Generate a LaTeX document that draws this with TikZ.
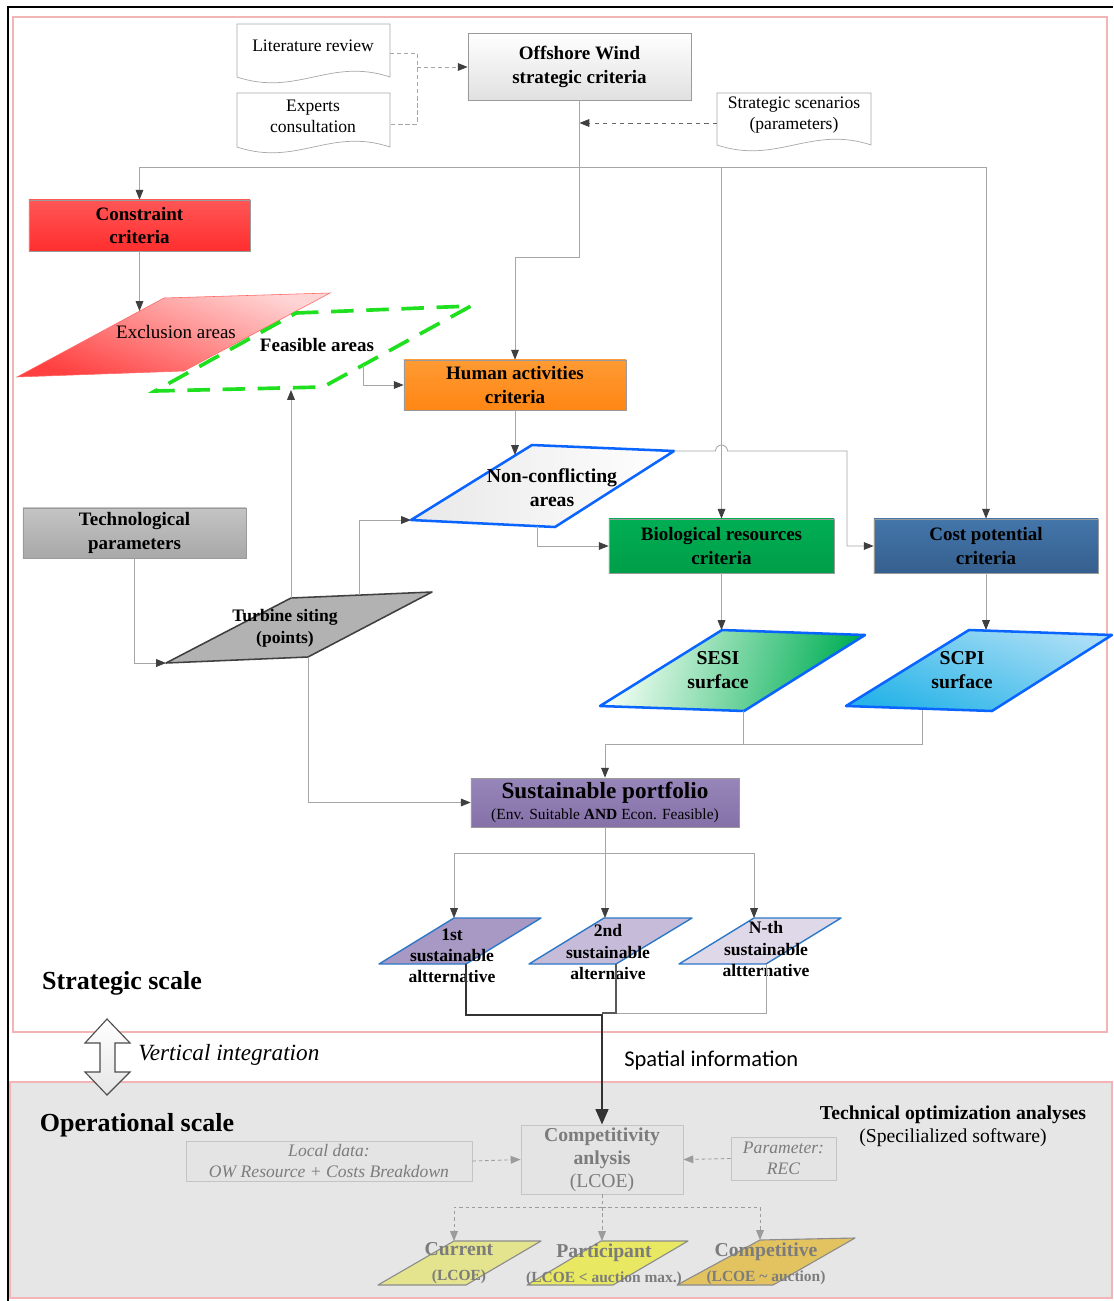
\documentclass[tikz,border=0pt]{standalone}
\usepackage{fontspec}
\setmainfont{Liberation Serif}
\newfontfamily\calibrifont{Carlito}
\usetikzlibrary{arrows.meta}
\definecolor{panelc}{HTML}{F2B4B4}
\definecolor{opbg}{HTML}{E6E6E6}
\definecolor{wirec}{HTML}{A6A6A6}
\definecolor{tipc}{HTML}{3F3F3F}
\definecolor{boxedge}{HTML}{9A9A9A}
\definecolor{docedge}{HTML}{A8A8A8}
\definecolor{constrtop}{HTML}{FF5656}
\definecolor{constrbot}{HTML}{FF2E2E}
\definecolor{humantop}{HTML}{FF9A33}
\definecolor{humanbot}{HTML}{FF8614}
\definecolor{biotop}{HTML}{00AE54}
\definecolor{biobot}{HTML}{009E48}
\definecolor{costtop}{HTML}{4476AA}
\definecolor{costbot}{HTML}{355F8E}
\definecolor{techtop}{HTML}{C4C4C4}
\definecolor{techbot}{HTML}{A8A8A8}
\definecolor{porttop}{HTML}{9786BA}
\definecolor{portbot}{HTML}{8571A8}
\definecolor{planeblue}{HTML}{0A64FF}
\definecolor{altblue}{HTML}{2E78C8}
\definecolor{feasgreen}{HTML}{1EE01E}
\definecolor{scpitop}{HTML}{A8DDF5}
\definecolor{scpibot}{HTML}{28B4E8}
\definecolor{excltop}{HTML}{FFD4D4}
\definecolor{exclbot}{HTML}{FF4040}
\definecolor{optext}{HTML}{7C7C7C}
\definecolor{opedge}{HTML}{C4C4C4}
\definecolor{opfill}{HTML}{E4E4E4}
\definecolor{opwirec}{HTML}{9C9C9C}
\definecolor{curfill}{HTML}{E4E48E}
\definecolor{partfill}{HTML}{E8E862}
\definecolor{compfill}{HTML}{E3C360}

\tikzset{
  panel/.style={draw=panelc,line width=1.1pt},
  wire/.style={draw=wirec,line width=0.6pt},
  headed/.style={-{Triangle[length=7pt,width=5.5pt,color=tipc]}},
  critbox/.style={draw=boxedge,line width=0.5pt,inner sep=0pt,align=center,
    font=\fontsize{13.5}{17}\selectfont\bfseries},
  doc/.style={draw=docedge,line width=0.5pt,fill=white},
  srctext/.style={align=center,font=\fontsize{12.5}{15}\selectfont},
  plane/.style={draw=planeblue,line width=1.8pt,line join=round},
  planetext/.style={align=center,font=\fontsize{14}{17}\selectfont\bfseries},
  alt/.style={draw=altblue,line width=1pt,line join=round},
  alttext/.style={align=center,font=\fontsize{12.5}{15}\selectfont\bfseries},
  opbox/.style={draw=opedge,fill=opfill,line width=0.6pt,inner sep=0pt,
    align=center,text=optext},
  opwire/.style={draw=opwirec,line width=0.6pt,dash pattern=on 2.5pt off 2pt},
  ophead/.style={-{Triangle[length=7pt,width=5.5pt,color=opwirec]}},
  oppara/.style={draw=black!45,line width=0.8pt,line join=round},
  optextb/.style={align=center,text=optext,font=\fontsize{14}{17.5}\selectfont\bfseries},
}

\begin{document}
\begin{tikzpicture}[x=0.025cm,y=-0.025cm]
\useasboundingbox (0,0) rectangle (1113,1301);

% the two scale panels and the outer frame
\draw[panel,fill=white] (13,17) rectangle (1107,1032);
\draw[panel,fill=opbg] (10,1082) rectangle (1112,1298);
\draw[line width=1.6pt] (8,1301) -- (8,7) -- (1113,7);

% sources of the strategic criteria
\draw[doc] (237,24) -- (390,24) -- (390,77) .. controls (330,57) and (297,97) .. (237,77) -- cycle;
\node[srctext] (litrev) at (313,46) {Literature review};
\draw[doc] (237,93) -- (390,93) -- (390,147) .. controls (330,127) and (297,167) .. (237,147) -- cycle;
\node[srctext] (experts) at (313,116.5) {Experts\\consultation};
\draw[doc] (717,93) -- (871,93) -- (871,145) .. controls (811,125) and (777,165) .. (717,145) -- cycle;
\node[srctext] (scenarios) at (794,115) {Strategic scenarios\\(parameters)};

\node[critbox,minimum width=5.575cm,minimum height=1.675cm,top color=white,bottom color=black!12] (owc) at (579.5,66.5) {Offshore Wind\\strategic criteria};

\coordinate (litout) at (390,53);
\coordinate (expout) at (390,124);
\coordinate (srcjoin) at (417,67);
\coordinate (scenout) at (717,123);
\draw[draw=wirec,line width=0.6pt,densely dashed] (litout) -| (srcjoin) |- (expout);
\draw[draw=wirec,line width=0.6pt,densely dashed,headed] (srcjoin) -- (owc.west |- srcjoin);
\draw[draw=black!60,line width=0.6pt,dashed,headed] (scenout) -- (owc.south |- scenout);

% criteria boxes
\node[critbox,minimum width=5.525cm,minimum height=1.275cm,top color=constrtop,bottom color=constrbot] (constraint) at (139.5,225.5) {Constraint\\criteria};
\node[critbox,minimum width=5.55cm,minimum height=1.25cm,top color=humantop,bottom color=humanbot] (human) at (515,385) {Human activities\\criteria};
\node[critbox,minimum width=5.625cm,minimum height=1.35cm,top color=biotop,bottom color=biobot] (bio) at (721.5,546) {Biological resources\\criteria};
\node[critbox,minimum width=5.6cm,minimum height=1.35cm,top color=costtop,bottom color=costbot] (cost) at (986,546) {Cost potential\\criteria};
\node[critbox,minimum width=5.575cm,minimum height=1.25cm,top color=techtop,bottom color=techbot] (tech) at (134.5,533) {Technological\\parameters};

% hub below the strategic criteria
\coordinate (hub) at (579.5,167);
\draw[wire] (owc.south) -- (hub);
\draw[wire,headed] (hub) -| (constraint.north);
\draw[wire,headed] (hub) -| (bio.north);
\draw[wire,headed] (hub) -| (cost.north);
\draw[wire,headed] (hub) -- ++(0,90) -| (human.north);

% spatial layers
\draw[draw=red!60,line width=0.4pt,top color=excltop,bottom color=exclbot,shading angle=-20] (164,298) -- (330,293) -- (184,371) -- (17,377) -- cycle;
\node[font=\fontsize{13.5}{16}\selectfont] (exclusion) at (176,332) {Exclusion areas};
\draw[draw=feasgreen,line width=2.6pt,dash pattern=on 16pt off 9pt] (296,313) -- (471,306) -- (323,387) -- (155,391) -- cycle;
\node[font=\fontsize{13.5}{16}\selectfont\bfseries] (feasible) at (317,345) {Feasible areas};

\draw[plane,left color=black!9,right color=white] (532,445) -- (674,451) -- (555,527) -- (411,520) -- cycle;
\node[planetext] (nonconf) at (552,488) {Non-conflicting\\areas};

\draw[draw=black!75,line width=1.1pt,fill=black!30,line join=round] (291,598) -- (432,592) -- (308,657) -- (166,663) -- cycle;
\node[alttext,font=\fontsize{12.5}{15.5}\selectfont\bfseries] (turbine) at (285,628) {Turbine siting\\(points)};

\draw[plane,left color=green!4!white,right color=biotop,shading angle=75] (722,630) -- (865,635) -- (744,711) -- (600,706) -- cycle;
\node[planetext] (sesi) at (718,670) {SESI\\surface};
\draw[plane,top color=scpitop,bottom color=scpibot,shading angle=-20] (969,630) -- (1112,635) -- (992,711) -- (846,706) -- cycle;
\node[planetext] (scpi) at (962,670) {SCPI\\surface};

% links between criteria and layers
\coordinate (exclin) at (139.5,311);
\coordinate (feasout) at (363,365);
\coordinate (feasin) at (291,390);
\coordinate (turbtl) at (291,598);
\coordinate (turbup) at (359,595);
\coordinate (turbbl) at (166,663);
\coordinate (turbbr) at (308,657);
\coordinate (ncin) at (411,520);
\coordinate (ncleft) at (515,455);
\coordinate (ncbot) at (537,526);
\coordinate (ncright) at (674,451);
\coordinate (sesitop) at (721.5,630);
\coordinate (scpitop) at (986,630);
\coordinate (sesibot) at (743,711);
\coordinate (scpibot) at (922,710);
\coordinate (merge) at (605,744);

\draw[wire,headed] (constraint.south) -- (exclin);
\draw[wire,headed] (feasout) |- (human.west);
\draw[wire,headed] (turbtl) -- (feasin);
\draw[wire,headed] (turbup) |- (ncin);
\draw[wire,headed] (tech.south) |- (turbbl);
\draw[wire,headed] (human.south) -- (ncleft);
\draw[wire,headed] (ncbot) |- (bio.west);
\draw[wire,headed] (ncright) -- (715.5,451) arc[start angle=180,end angle=360,radius=6] -- (847,451) |- (cost.west);
\draw[wire,headed] (bio.south) -- (sesitop);
\draw[wire,headed] (cost.south) -- (scpitop);

% portfolio
\node[critbox,minimum width=6.7cm,minimum height=1.225cm,top color=porttop,bottom color=portbot,font=\fontsize{11}{15.5}\selectfont] (portfolio) at (605,802.5) {{\fontsize{16.5}{15.5}\selectfont\bfseries Sustainable portfolio}\\(Env. Suitable \textbf{AND} Econ. Feasible)};
\draw[wire] (scpibot) |- (merge);
\draw[wire,headed] (sesibot) |- (merge) -- (portfolio.north);
\draw[wire,headed] (turbbr) |- (portfolio.west);

% alternatives
\draw[alt,fill=porttop!85] (454,918) -- (541,918) -- (466,964) -- (379,964) -- cycle;
\draw[alt,fill=porttop!55] (604,918) -- (692,918) -- (616,964) -- (529,964) -- cycle;
\draw[alt,fill=porttop!32] (754,918) -- (841,918) -- (766,964) -- (679,964) -- cycle;
\node[alttext] (alt1) at (452,956) {1st\\sustainable\\altternative};
\node[alttext] (alt2) at (608,952) {2nd\\sustainable\\alternaive};
\node[alttext] (altn) at (766,949) {N-th\\sustainable\\altternative};

\coordinate (split) at (605,853);
\coordinate (alt1top) at (454,918);
\coordinate (alt2top) at (605,918);
\coordinate (altntop) at (754,918);
\draw[wire] (portfolio.south) -- (split);
\draw[wire,headed] (split) -| (alt1top);
\draw[wire,headed] (split) -- (alt2top);
\draw[wire,headed] (split) -| (altntop);

% labels of the two scales
\node[font=\fontsize{18.5}{22}\selectfont\bfseries] (strategic) at (122,983) {Strategic scale};
\node[font=\fontsize{18.5}{22}\selectfont\bfseries] (operational) at (137,1125) {Operational scale};
\node[anchor=west,inner sep=0pt,font=\fontsize{16.5}{20}\selectfont\itshape] (vertint) at (138,1055) {Vertical integration};
\node[anchor=west,inner sep=0pt,font=\calibrifont\fontsize{16}{19}\selectfont] (spatial) at (624,1060) {Spatial information};
\node[align=center,font=\fontsize{14}{16.5}\selectfont] (techopt) at (953,1126) {\textbf{Technical optimization analyses}\\(Specilialized software)};

\draw[draw=black!70,line width=0.8pt,top color=white,bottom color=black!10,line join=miter]
  (107,1019) -- (130,1043) -- (115,1043) -- (115,1072) -- (130,1072) -- (107,1095)
  -- (85,1072) -- (100,1072) -- (100,1043) -- (85,1043) -- cycle;

% operational analysis
\node[opbox,minimum width=7.15cm,minimum height=1cm,font=\fontsize{12.5}{15}\selectfont\itshape] (localdata) at (329,1161) {Local data:\\OW Resource + Costs Breakdown};
\node[opbox,minimum width=4.05cm,minimum height=1.725cm,font=\fontsize{14}{16.5}\selectfont] (compet) at (602,1159.5) {\textbf{Competitivity}\\\textbf{anlysis}\\(LCOE)};
\node[opbox,minimum width=2.625cm,minimum height=1.075cm,font=\fontsize{12.5}{15}\selectfont\itshape] (param) at (783.5,1158.5) {Parameter:\\REC};

\coordinate (alt1bot) at (466,964);
\coordinate (alt2bot) at (616,964);
\coordinate (altnbot) at (766,964);
\coordinate (gathern) at (616,1013);
\coordinate (gather2) at (602,1013);
\coordinate (gather1) at (602,1015);
\draw[wire] (altnbot) |- (gathern);
\draw[draw=black!65,line width=1pt] (alt2bot) |- (gather2);
\draw[draw=black!80,line width=1.8pt,-{Triangle[length=11pt,width=9pt]}] (alt1bot) |- (gather1) -- (compet.north);

\draw[opwire,ophead] (localdata.east) -- (compet.west);
\draw[opwire,ophead] (param.west) -- (compet.east);

\draw[oppara,fill=curfill] (454,1241) -- (541,1241) -- (466,1285) -- (378,1285) -- cycle;
\draw[oppara,fill=partfill] (601,1241) -- (688,1241) -- (613,1285) -- (527,1285) -- cycle;
\draw[oppara,fill=compfill] (760,1240) -- (855,1238) -- (773,1285) -- (677,1285) -- cycle;
\node[optextb] (current) at (459,1263) {Current\\{\fontsize{11}{13}\selectfont(LCOE)}};
\node[optextb] (particip) at (604,1265) {Participant\\{\fontsize{11}{13}\selectfont(LCOE < auction max.)}};
\node[optextb] (competitive) at (766,1264) {Competitive\\{\fontsize{11}{13}\selectfont(LCOE \textasciitilde\ auction)}};

\coordinate (opsplit) at (602,1207);
\coordinate (curtop) at (454,1241);
\coordinate (partop) at (602,1241);
\coordinate (comptop) at (760,1240);
\draw[opwire] (compet.south) -- (opsplit);
\draw[opwire,ophead] (opsplit) -| (curtop);
\draw[opwire,ophead] (opsplit) -- (partop);
\draw[opwire,ophead] (opsplit) -| (comptop);
\end{tikzpicture}
\end{document}
